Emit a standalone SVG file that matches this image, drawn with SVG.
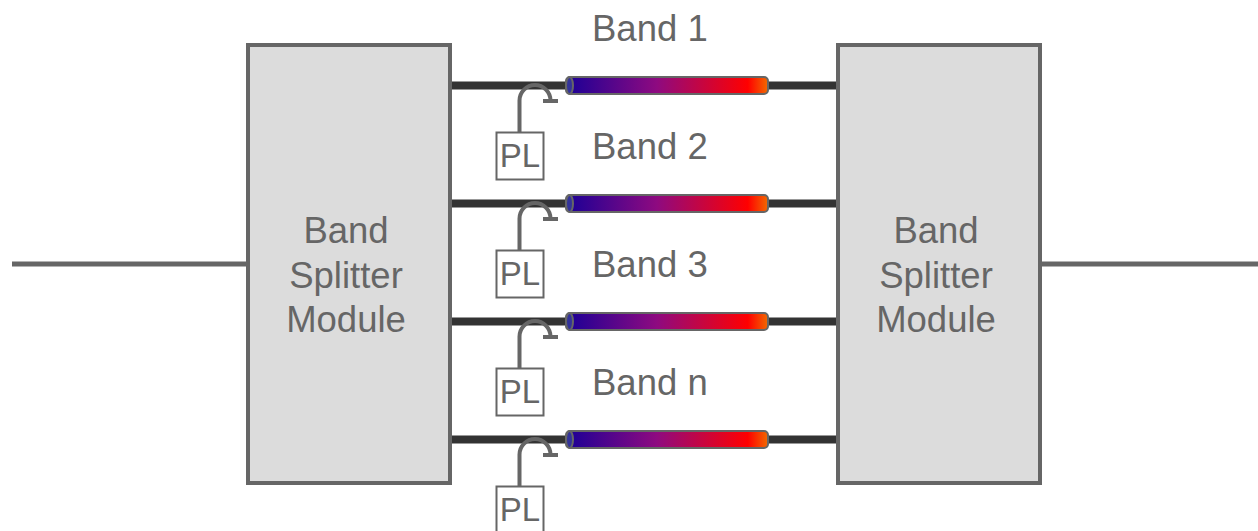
<svg xmlns="http://www.w3.org/2000/svg" width="1258" height="531" viewBox="0 0 1258 531">
<style>
text{font-family:"Liberation Sans",Arial,sans-serif;fill:#666;font-size:36.500px}
.m{text-anchor:middle}
.box{fill:#dcdcdc;stroke:#666;stroke-width:4}
.io{stroke:#666;stroke-width:5;fill:none}
.bus{stroke:#333;stroke-width:8;fill:none}
.tube{fill:url(#g);stroke:#666;stroke-width:2}
.cap{fill:#333399;stroke:#666;stroke-width:2}
.pl{fill:#fff;stroke:#666;stroke-width:2}
.hook{fill:none;stroke:#666;stroke-width:4}
.pltext{font-size:33px;text-anchor:middle}
</style>
<defs>
<linearGradient id="g" x1="0" y1="0" x2="1" y2="0">
<stop offset="0" stop-color="#1a0096"/><stop offset="0.45" stop-color="#8e0a80"/><stop offset="0.9" stop-color="#ff0000"/><stop offset="1" stop-color="#f26a00"/>
</linearGradient>
<g id="tubeShape">
<rect class="tube" x="566" y="77" width="202" height="17" rx="4"/>
<ellipse class="cap" cx="569.500" cy="85.500" rx="3.500" ry="8.500"/>
</g>
<g id="plShape">
<path class="hook" d="M519.500 132V100.500A15.500 15.500 0 0 1 550.500 100.500M543 101H558"/>
<rect class="pl" x="496.500" y="132.500" width="47" height="47"/>
<text class="pltext" x="520" y="167">PL</text>
</g>
</defs>
<g id="connectors">
<path class="io" d="M12 264H247M1040 264H1258"/>
<path class="bus" d="M451 85.500H836M451 203.500H836M451 321.500H836M451 439.500H836"/>
</g>
<g id="left-module">
<rect class="box" x="248" y="45" width="202" height="438"/>
<text class="m" x="346" y="243">Band</text><text class="m" x="346" y="288">Splitter</text><text class="m" x="346" y="332">Module</text>
</g>
<g id="right-module">
<rect class="box" x="838" y="45" width="202" height="438"/>
<text class="m" x="936" y="243">Band</text><text class="m" x="936" y="288">Splitter</text><text class="m" x="936" y="332">Module</text>
</g>
<g id="band-1"><use href="#tubeShape"/><text x="592" y="41">Band 1</text></g>
<g id="band-2"><use href="#tubeShape" y="118"/><text x="592" y="159">Band 2</text></g>
<g id="band-3"><use href="#tubeShape" y="236"/><text x="592" y="277">Band 3</text></g>
<g id="band-n"><use href="#tubeShape" y="354"/><text x="592" y="395">Band n</text></g>
<g id="pl-1"><use href="#plShape"/></g>
<g id="pl-2"><use href="#plShape" y="118"/></g>
<g id="pl-3"><use href="#plShape" y="236"/></g>
<g id="pl-n"><use href="#plShape" y="354"/></g>
</svg>
